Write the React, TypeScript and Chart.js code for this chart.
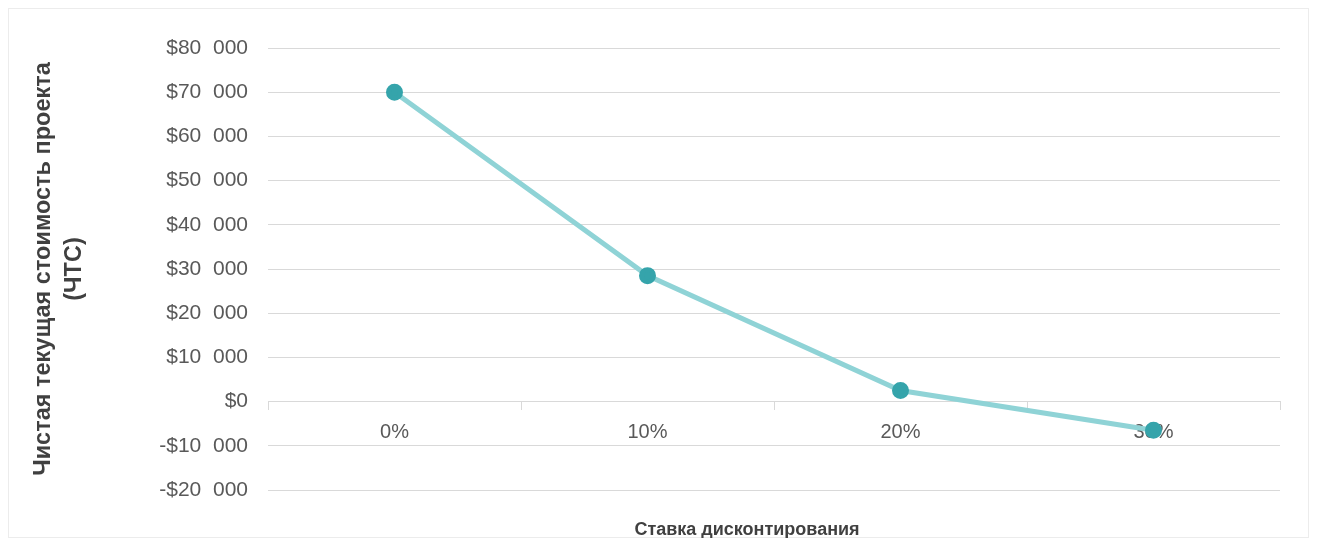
import React, { useEffect, useRef } from 'react';
import { Chart, registerables } from 'chart.js';

Chart.register(...registerables);

const categories = ['0%', '10%', '20%', '30%'];
const npvValues = [70000, 28500, 2500, -6500];
const yMin = -20000;
const yMax = 80000;
const yStep = 10000;
const yAxisTitle = ['Чистая текущая стоимость проекта', '(ЧТС)'];
const xAxisTitle = 'Ставка дисконтирования';

const FONT = 'Liberation Sans, Arial, sans-serif';

function formatMoney(v: number): string {
  const abs = Math.abs(v).toString().replace(/\B(?=(\d{3})+(?!\d))/g, '  ');
  return (v < 0 ? '-' : '') + '$' + abs;
}

export default function App() {
  const ref = useRef<HTMLCanvasElement | null>(null);

  useEffect(() => {
    if (!ref.current) return;
    const chart = new Chart(ref.current, {
      type: 'line',
      data: {
        labels: categories,
        datasets: [
          {
            label: 'NPV',
            data: npvValues,
            borderColor: '#8fd3d6',
            borderWidth: 5,
            pointStyle: 'circle',
            pointRadius: 6,
            pointBackgroundColor: '#35a4ab',
            pointBorderColor: '#35a4ab',
            tension: 0,
            fill: false,
          },
        ],
      },
      options: {
        responsive: false,
        animation: false,
        devicePixelRatio: 1,
        layout: { padding: { left: 0, right: 28, top: 39, bottom: 47 } },
        plugins: {
          legend: { display: false },
          tooltip: { enabled: false },
          title: { display: false },
        },
        scales: {
          x: {
            type: 'category',
            position: { y: 0 } as any,
            offset: true,
            grid: {
              display: true,
              drawOnChartArea: false,
              drawTicks: true,
              tickLength: 8,
              color: '#d9d9d9',
              offset: true,
            },
            border: { display: true, color: '#d9d9d9', width: 1 },
            ticks: {
              color: '#595959',
              padding: 11,
              maxRotation: 0,
              font: { family: FONT, size: 20 },
            },
          },
          y: {
            type: 'linear',
            min: yMin,
            max: yMax,
            afterFit: (scale: any) => {
              scale.width = 259;
            },
            grid: { color: '#d9d9d9', lineWidth: 1, drawTicks: false },
            border: { display: false },
            ticks: {
              stepSize: yStep,
              padding: 20,
              color: '#595959',
              font: { family: FONT, size: 21 },
              callback: (v: any) => formatMoney(Number(v)),
            },
            title: {
              display: true,
              text: yAxisTitle,
              color: '#404040',
              font: { family: FONT, size: 23.5, weight: 'bold', lineHeight: 1.32 },
              padding: { top: 19, bottom: 0 },
            },
          },
        },
      },
    });
    return () => chart.destroy();
  }, []);

  return (
    <div
      style={{
        position: 'relative',
        width: 1301,
        height: 530,
        border: '1px solid #ececec',
        boxSizing: 'border-box',
        background: '#ffffff',
      }}
    >
      <canvas ref={ref} width={1299} height={528} style={{ display: 'block', width: 1299, height: 528 }} />
      <div
        style={{
          position: 'absolute',
          left: 538,
          top: 510,
          width: 400,
          height: 20,
          lineHeight: '20px',
          textAlign: 'center',
          fontFamily: FONT,
          fontSize: 18,
          fontWeight: 'bold',
          color: '#404040',
          whiteSpace: 'nowrap',
        }}
      >
        {xAxisTitle}
      </div>
    </div>
  );
}
